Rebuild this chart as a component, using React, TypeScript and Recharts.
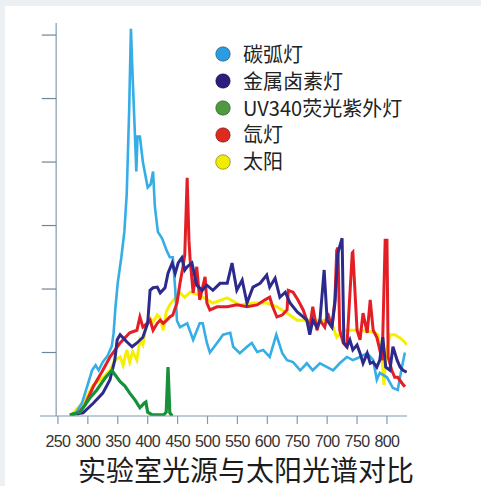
import React from "react";
import { LineChart, Line, XAxis, YAxis, ReferenceLine } from "recharts";

// x-axis tick values and their printed labels (as printed in the source)
const xTickValues = [250, 300, 350, 400, 450, 500, 550, 600, 650, 700, 750, 800];
const xTickLabels = ["250", "300", "350", "400", "450", "500", "550", "600", "750", "700", "750", "800"];
const yTickValues = [1, 2, 3, 4, 5, 6];

const seriesNames = ["碳弧灯", "金属卤素灯", "UV340荧光紫外灯", "氙灯", "太阳"];
const title = "实验室光源与太阳光谱对比";

// 碳弧灯 (carbon arc)
const carbonNm = [270, 280, 290, 300, 307, 313, 318, 325, 333, 340, 343, 346, 350, 356, 361, 365, 369, 372, 375, 378, 381, 383, 387, 392, 400, 405, 409, 412, 417, 424, 432, 437, 442, 446, 449, 454, 466, 476, 487, 492, 499, 504, 516, 526, 538, 543, 554, 566, 574, 583, 593, 604, 615, 625, 633, 643, 655, 666, 676, 688, 700, 710, 721, 733, 743, 755, 767, 777, 783, 788, 800, 810, 818, 825, 830];
const carbonVal = [0, 0.05, 0.2, 0.5, 0.72, 0.8, 0.72, 0.85, 0.95, 1.1, 1.3, 1.7, 2.1, 2.5, 2.9, 3.5, 4.8, 6.1, 5.3, 4.6, 3.85, 4.4, 4.4, 4.0, 3.6, 3.65, 3.85, 3.3, 2.9, 2.8, 2.6, 2.5, 2.5, 2.0, 1.5, 1.4, 1.46, 1.2, 1.46, 1.46, 1.15, 1.0, 1.15, 1.28, 1.31, 1.09, 0.99, 1.09, 1.15, 1.01, 1.04, 0.93, 1.28, 0.99, 0.88, 0.85, 0.72, 0.83, 0.72, 0.83, 0.77, 0.72, 0.83, 0.93, 0.88, 0.93, 0.99, 0.88, 0.57, 0.68, 0.61, 0.44, 0.41, 0.77, 1.0];

// 金属卤素灯 (metal halide)
const halideNm = [270, 292, 309, 325, 337, 345, 349, 354, 365, 374, 382, 392, 400, 404, 409, 416, 421, 429, 434, 441, 446, 451, 457, 462, 466, 474, 482, 491, 499, 509, 521, 533, 541, 549, 558, 566, 576, 588, 599, 604, 613, 621, 630, 638, 650, 660, 666, 671, 676, 683, 688, 695, 700, 708, 713, 718, 725, 728, 733, 738, 743, 750, 755, 760, 767, 772, 777, 783, 788, 793, 798, 805, 810, 817, 822, 827, 833];
const halideVal = [0.02, 0.05, 0.2, 0.36, 0.57, 0.88, 1.2, 1.28, 1.17, 1.09, 1.15, 1.24, 1.46, 1.98, 2.02, 2.03, 1.94, 2.02, 2.25, 2.41, 2.25, 2.41, 2.49, 2.3, 2.35, 2.41, 2.06, 1.98, 2.06, 1.98, 2.09, 2.09, 2.41, 1.98, 2.14, 1.78, 2.03, 2.09, 2.22, 2.03, 2.17, 1.87, 1.95, 1.78, 1.64, 1.56, 1.51, 1.28, 1.51, 1.4, 1.51, 2.3, 1.51, 1.4, 1.78, 2.57, 2.8, 1.15, 1.09, 1.2, 1.04, 1.12, 0.99, 0.83, 0.99, 0.83, 0.85, 0.77, 0.88, 1.24, 0.77, 0.72, 1.09, 0.88, 0.77, 0.72, 0.69];

// UV340荧光紫外灯
const uvNm = [270, 287, 303, 315, 329, 340, 347, 354, 362, 370, 379, 387, 394, 397, 400, 407, 427, 431, 434, 437, 441];
const uvVal = [0.02, 0.06, 0.28, 0.41, 0.6, 0.72, 0.63, 0.54, 0.47, 0.36, 0.25, 0.13, 0.2, 0.22, 0.06, 0.02, 0.02, 0.06, 0.77, 0.05, 0];

// 氙灯 (xenon)
const xenonNm = [282, 295, 309, 325, 337, 354, 370, 382, 387, 392, 399, 404, 409, 416, 421, 426, 432, 437, 442, 449, 454, 459, 462, 466, 469, 471, 476, 482, 487, 492, 496, 499, 504, 516, 533, 549, 566, 583, 596, 604, 609, 616, 625, 633, 635, 643, 651, 660, 666, 671, 676, 683, 688, 696, 701, 708, 713, 716, 718, 721, 727, 733, 742, 743, 750, 755, 760, 767, 772, 777, 783, 792, 797, 800, 802, 808, 813, 818, 825, 830];
const xenonVal = [0.02, 0.17, 0.46, 0.72, 0.93, 1.15, 1.31, 1.35, 1.56, 1.4, 1.46, 1.51, 1.35, 1.46, 1.51, 1.46, 1.51, 1.56, 1.59, 1.78, 2.09, 2.35, 2.54, 3.75, 2.77, 2.46, 1.94, 2.35, 1.83, 2.03, 2.19, 1.78, 1.67, 1.72, 1.72, 1.75, 1.72, 1.75, 1.83, 1.87, 1.72, 1.56, 1.59, 1.67, 1.98, 1.95, 1.83, 1.67, 1.51, 1.4, 1.72, 1.35, 1.51, 1.4, 1.62, 1.4, 1.83, 2.61, 2.65, 1.35, 1.15, 1.09, 2.57, 2.58, 1.35, 1.2, 1.62, 1.31, 1.83, 1.35, 1.24, 0.88, 2.77, 2.77, 0.93, 0.72, 0.61, 0.61, 0.52, 0.46];

// 太阳 (sun)
const sunNm = [273, 295, 309, 325, 337, 345, 354, 359, 365, 370, 375, 382, 387, 392, 397, 404, 409, 416, 421, 426, 431, 437, 446, 454, 462, 471, 487, 509, 533, 554, 576, 599, 616, 633, 650, 666, 683, 700, 710, 716, 727, 738, 755, 777, 785, 792, 795, 798, 805, 813, 822, 829, 833];
const sunVal = [0.02, 0.25, 0.49, 0.6, 0.72, 0.88, 0.93, 0.8, 1.04, 0.85, 1.01, 0.88, 1.2, 1.12, 1.43, 1.54, 1.48, 1.59, 1.54, 1.35, 1.64, 1.75, 1.86, 1.94, 1.87, 1.95, 1.9, 1.78, 1.86, 1.75, 1.78, 1.78, 1.72, 1.62, 1.51, 1.51, 1.51, 1.51, 1.4, 1.24, 1.35, 1.35, 1.35, 1.32, 1.28, 0.88, 0.49, 0.96, 1.28, 1.28, 1.23, 1.17, 1.12];

const lineColors = ["#35ade6", "#2c2a8c", "#16913a", "#e31e24", "#f6ef00"];
const dotColors = ["#2a9de0", "#2a1f7e", "#4e9a3e", "#df2a1f", "#f2ec00"];

const toData = (nm: number[], val: number[]) => nm.map((x, i) => ({ nm: x, v: val[i] }));

const carbonData = toData(carbonNm, carbonVal);
const halideData = toData(halideNm, halideVal);
const uvData = toData(uvNm, uvVal);
const xenonData = toData(xenonNm, xenonVal);
const sunData = toData(sunNm, sunVal);

const AXIS_COLOR = "#7f9ab2";
const Y_AXIS_X = 247;
const X_MIN = 220;
const X_MAX = 833.5;
const Y_MAX = 6.19;

const LegendBlock = () => (
  <div
    style={{
      position: "absolute",
      left: 215,
      top: 41,
      fontFamily: "'Noto Sans CJK SC', sans-serif",
      fontSize: 20,
      color: "#222",
    }}
  >
    {seriesNames.map((n, i) => (
      <div key={n} style={{ display: "flex", alignItems: "center", height: 26.8 }}>
        <svg width={16} height={16} style={{ marginRight: 12, flex: "none" }}>
          <circle cx={8} cy={8} r={7.3} fill={dotColors[i]} stroke="rgba(0,0,0,0.35)" strokeWidth={1} />
        </svg>
        <span style={{ lineHeight: "26.8px", whiteSpace: "nowrap" }}>{n}</span>
      </div>
    ))}
  </div>
);

export default function App() {
  return (
    <div style={{ position: "absolute", left: 0, top: 0, width: 481, height: 486, background: "#edf0f3", overflow: "hidden" }}>
      <div style={{ position: "absolute", left: 5, top: 6, width: 476, height: 480, background: "#ffffff" }} />
      <div style={{ position: "absolute", left: 0, top: 0 }}>
        <LineChart width={481} height={486} margin={{ top: 23, right: 74, bottom: 40, left: 40 }}>
          <XAxis
            dataKey="nm"
            type="number"
            domain={[X_MIN, X_MAX]}
            ticks={xTickValues}
            tickFormatter={(v: number) => xTickLabels[xTickValues.indexOf(v)] ?? String(v)}
            allowDataOverflow
            height={30}
            tickSize={8}
            tickMargin={12}
            axisLine={{ stroke: AXIS_COLOR, strokeWidth: 1.2 }}
            tickLine={{ stroke: AXIS_COLOR, strokeWidth: 1.2 }}
            tick={{ fill: "#333", fontSize: 16, fontFamily: "'Liberation Sans', Arial, sans-serif", letterSpacing: -0.6 }}
            interval={0}
          />
          <YAxis hide domain={[0, Y_MAX]} type="number" allowDataOverflow />
          <ReferenceLine
            segment={[{ x: Y_AXIS_X, y: 0 }, { x: Y_AXIS_X, y: Y_MAX }]}
            stroke={AXIS_COLOR}
            strokeWidth={1.2}
            ifOverflow="visible"
          />
          {yTickValues.map((t) => (
            <ReferenceLine
              key={t}
              segment={[{ x: X_MIN + 3, y: t }, { x: Y_AXIS_X, y: t }]}
              stroke="#6f8598"
              strokeWidth={1.2}
              ifOverflow="visible"
            />
          ))}
          <Line data={sunData} dataKey="v" name={seriesNames[4]} stroke={lineColors[4]} strokeWidth={3} dot={false} isAnimationActive={false} type="linear" />
          <Line data={carbonData} dataKey="v" name={seriesNames[0]} stroke={lineColors[0]} strokeWidth={2.6} dot={false} isAnimationActive={false} type="linear" />
          <Line data={xenonData} dataKey="v" name={seriesNames[3]} stroke={lineColors[3]} strokeWidth={3} dot={false} isAnimationActive={false} type="linear" />
          <Line data={halideData} dataKey="v" name={seriesNames[1]} stroke={lineColors[1]} strokeWidth={3} dot={false} isAnimationActive={false} type="linear" />
          <Line data={uvData} dataKey="v" name={seriesNames[2]} stroke={lineColors[2]} strokeWidth={3.2} dot={false} isAnimationActive={false} type="linear" />
        </LineChart>
      </div>
      <LegendBlock />
      <div
        style={{
          position: "absolute",
          left: 40,
          top: 454,
          width: 412,
          textAlign: "center",
          fontFamily: "'Noto Sans CJK SC', sans-serif",
          fontSize: 28,
          lineHeight: "30px",
          color: "#1c1c1c",
          whiteSpace: "nowrap",
        }}
      >
        {title}
      </div>
    </div>
  );
}
